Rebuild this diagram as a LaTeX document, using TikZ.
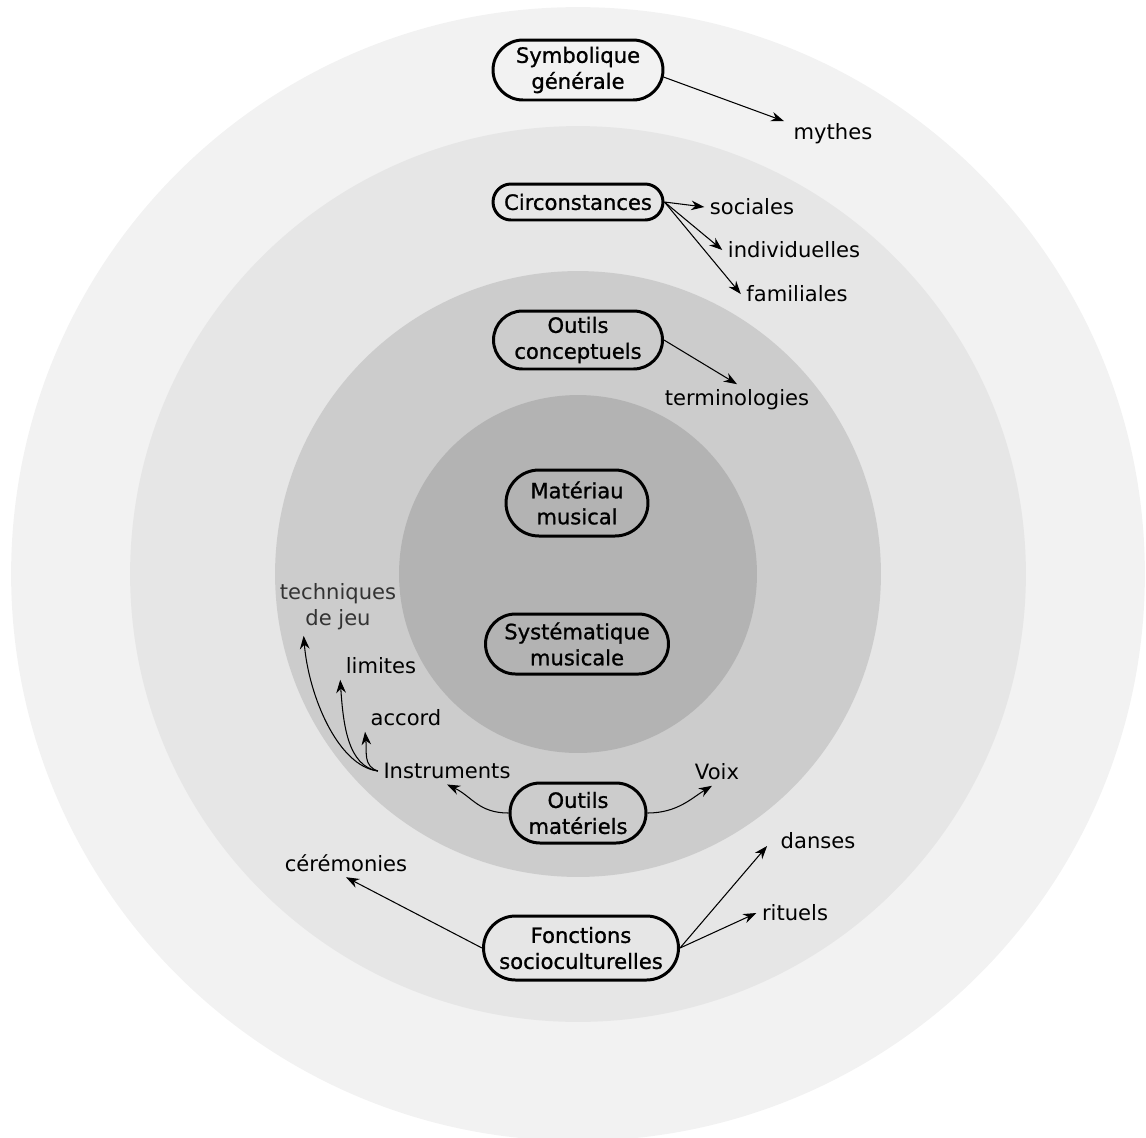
\documentclass[tikz,border=0pt]{standalone}
\usepackage{fontspec}
\setmainfont{DejaVu Sans}
\newfontfamily\nodefont[FakeBold=1]{DejaVu Sans}
\usetikzlibrary{shapes.misc,arrows.meta,calc}
\definecolor{ringA}{HTML}{F2F2F2}
\definecolor{ringB}{HTML}{E6E6E6}
\definecolor{ringC}{HTML}{CCCCCC}
\definecolor{ringD}{HTML}{B3B3B3}
\definecolor{greytext}{HTML}{333333}
\tikzset{
  box/.style={draw, line width=1.7pt, rounded rectangle, align=center, inner sep=0pt,
    font=\nodefont\fontsize{12}{14.8}\selectfont, text=black},
  lbl/.style={inner sep=3pt, align=center, font=\fontsize{12}{14.8}\selectfont, text=black},
  arr/.style={-{Stealth[length=7.5pt,width=5.5pt]}, line width=0.6pt, black},
}
\begin{document}
\begin{tikzpicture}[x=0.02cm,y=-0.02cm]
\useasboundingbox (0,0) rectangle (1146,1137);
\begin{scope}
\clip (0,0) rectangle (1146,1137);
\fill[ringA] (578,574) circle (11.34cm);
\fill[ringB] (578,574) circle (8.96cm);
\fill[ringC] (578,574) circle (6.06cm);
\fill[ringD] (578,574) circle (3.58cm);
\end{scope}

% boxes
\node[box, minimum width=3.4cm, minimum height=1.2cm] (sym) at (578,70) {Symbolique\\générale};
\node[box, minimum width=3.4cm, minimum height=0.72cm] (circ) at (578,202) {Circonstances};
\node[box, minimum width=3.38cm, minimum height=1.16cm] (oc) at (578,340) {Outils\\conceptuels};
\node[box, minimum width=2.84cm, minimum height=1.32cm] (mat) at (577,503) {Matériau\\musical};
\node[box, minimum width=3.66cm, minimum height=1.2cm] (sys) at (577,644) {Systématique\\musicale};
\node[box, minimum width=2.72cm, minimum height=1.2cm] (om) at (578,813) {Outils\\matériels};
\node[box, minimum width=3.9cm, minimum height=1.28cm] (fonc) at (581,948) {Fonctions\\socioculturelles};

% labels
\node[lbl] (myth) at (833,134) {mythes};
\node[lbl] (soc) at (752,207) {sociales};
\node[lbl] (indiv) at (794,250) {individuelles};
\node[lbl] (fam) at (797,294) {familiales};
\node[lbl] (term) at (737,400) {terminologies};
\node[lbl, text=greytext] (tech) at (338,607) {techniques\\de jeu};
\node[lbl] (lim) at (381,666) {limites};
\node[lbl] (acc) at (406,718) {accord};
\node[lbl] (instr) at (447,771) {Instruments};
\node[lbl] (voix) at (717,772) {Voix};
\node[lbl] (cer) at (346,863) {cérémonies};
\node[lbl] (dan) at (818,841) {danses};
\node[lbl] (rit) at (795,913) {rituels};

% connectors
\draw[arr] ($(sym.east)+(-1,7)$) -- ($(myth.north west)+(-4,3)$);
\draw[arr] (circ.east) -- (soc.west);
\draw[arr] (circ.east) -- (indiv.west);
\draw[arr] (circ.east) -- (fam.west);
\draw[arr] (oc.east) -- (term.north);
\draw[arr] (instr.west) .. controls +(-40,-5) and +(5,60) .. (tech.220);
\draw[arr] (instr.west) .. controls +(-30,-5) and +(3,45) .. (lim.south west);
\draw[arr] (instr.west) .. controls +(-15,-5) and +(2,20) .. (acc.south west);
\draw[arr] (om.west) .. controls +(-30,0) and +(25,12) .. (instr.south);
\draw[arr] (om.east) .. controls +(30,0) and +(-20,12) .. (voix.250);
\draw[arr] (fonc.west) -- (cer.south);
\draw[arr] (fonc.east) -- ($(dan.west)+(-8,5)$);
\draw[arr] (fonc.east) -- (rit.west);
\end{tikzpicture}
\end{document}
